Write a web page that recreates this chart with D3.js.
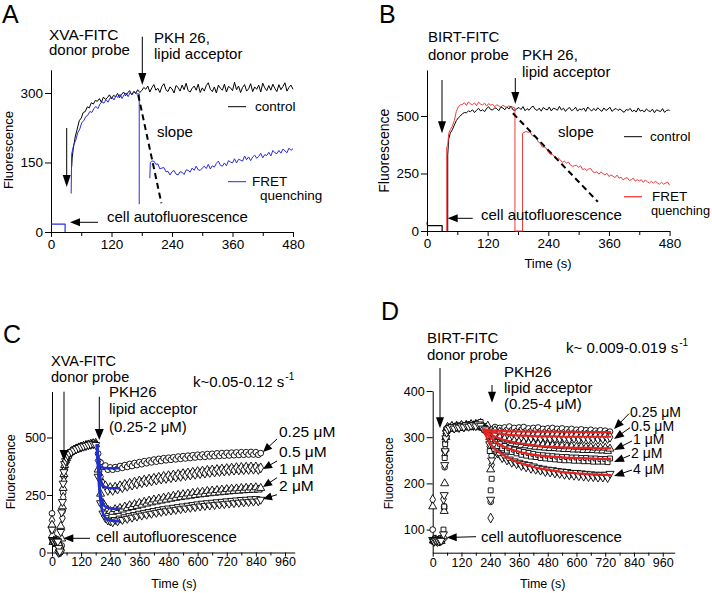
<!DOCTYPE html>
<html><head><meta charset="utf-8">
<script src="https://cdn.jsdelivr.net/npm/d3@7"></script>
<style>body{margin:0;background:#fff}svg{display:block}</style>
</head><body><svg id="c" width="712" height="593"></svg>
<script>
// ---------------- DATA ----------------
// Panel A (XVA-FITC)
const autoTA = [0, 28, 28];
const autoVA = [17, 17, 0];
const tCtrlA = [41,42,44,46,48].concat(d3.range(52,177,4)).concat(d3.range(180,481,4));
const ctrlA = [140,160,178,192,205,
 222,240,246,258,260,270,268,279,276,284,
 282,288,280,291,286,290,296,287,295,292,
 299,290,297,302,294,300,305,296,303,299,
 307,301,
 305,312,308,315,302,311,318,306,310,301,
 314,320,307,303,313,309,300,316,312,304,
 317,307,321,305,302,310,315,306,319,301,
 311,304,316,322,308,303,313,300,317,310,
 306,319,302,314,311,305,323,307,315,301,
 312,318,304,309,320,303,313,308,317,302,
 321,311,305,316,306,319,310,303,318,307,
 314,322,304,312,317,308];
const tFretA1 = [40].concat(d3.range(41,173,4)).concat([175,175]);
const fretA1 = [83,
 168,188,198,214,222,236,240,249,252,260,
 258,266,271,266,276,281,278,286,280,289,
 291,285,294,290,297,288,296,300,292,301,
 296,304,298,
 298,60];
const tFretA2 = [196,197].concat(d3.range(200,481,4));
const fretA2 = [116,150,
 153,153,146,147,136,138,139,130,131,123,
 130,133,125,123,130,129,124,134,133,129,
 138,133,142,134,133,138,142,137,146,136,
 143,140,148,153,144,142,149,143,154,151,
 149,158,149,157,155,153,164,156,162,154,
 162,166,159,163,170,160,167,165,172,164,
 176,171,169,176,170,179,175,171,181,176,
 180];
const slopeTA = [173, 219];
const slopeVA = [296, 62];

// Panel B (BIRT-FITC)
const autoTB = [0, 1, 30, 30];
const autoVB = [38, 23, 23, 0];
const tCtrlB = [41,41,43,46,50,54,58,62,66,70,74].concat(d3.range(78,479,4)).concat([480]);
const ctrlB = [0,330,400,425,440,460,480,492,500,510,515,
 514,522,519,527,515,525,533,522,527,519,
 533,540,528,526,536,532,523,539,535,527,
 540,530,543,527,524,532,537,528,541,523,
 532,525,537,543,529,524,534,521,537,530,
 526,539,522,534,531,525,542,526,534,520,
 531,537,523,528,538,521,531,526,535,520,
 539,529,522,533,523,536,527,520,535,524,
 530,538,520,528,533,524,531,522,516,528,
 525,533,519,526,517,535,521,526,517,531,
 523,519,530,514,527,523,519,532,516,524,
 526,524];
const tFretB = [39,39,41,43,46,50,54,58,62,66].concat(d3.range(70,171,4)).concat([172,174,174,189,189]).concat(d3.range(192,481,4));
const fretB = [0,365,372,425,440,455,480,520,540,548,
 550,558,546,561,553,549,557,545,560,552,
 548,556,543,554,547,551,540,549,544,538,
 547,541,536,545,535,540,
 535,535,0,0,425,
 428,433,429,432,415,411,406,388,381,365,
 365,360,343,333,333,324,312,317,309,298,
 304,294,300,286,281,284,285,277,283,267,
 271,263,270,271,258,253,258,247,257,250,
 244,251,237,244,238,232,243,230,234,222,
 229,232,220,223,230,217,223,217,223,211,
 222,214,209,216,208,216,209,203,212,204,
 208,213,199];
const slopeTB = [170, 338];
const slopeVB = [512, 127];

// Panel C (XVA-FITC, PKH26 0.25-2 uM)
const concC = ["0.25 \u03bcM", "0.5 \u03bcM", "1 \u03bcM", "2 \u03bcM"];
const tC = [0,2,4,8,12,16,20,24,28,32,36,40,43,46,49,52,56,60,65,70,80,90,100,110,120,130,140,150,160,170,180].concat(d3.range(190,861,10));
const c025 = [170,95,48,50,52,47,50,45,3,0, 2,30,180,260,330,370,395,405,415,425, 435,442,448,452,456,460,462,466,468,470, 472,
 430,392,372,378,360,370,360,371,364,376,
 368,380,372,385,376,389,380,393,384,397,
 388,400,392,404,395,407,398,410,401,412,
 403,414,405,417,407,419,409,421,411,423,
 413,425,415,426,416,428,418,429,419,431,
 420,432,421,433,422,434,423,435,424,436,
 425,436,426,437,426,436,425,432];
const c05 = [140,60,52,45,50,55,48,5,0,2, 4,10,150,240,310,360,385,400,418,428, 438,445,450,455,458,462,465,468,470,473, 475,
 400,330,300,290,270,282,270,284,276,290,
 282,296,288,301,293,306,298,311,303,315,
 307,319,311,323,315,327,319,331,322,334,
 325,337,328,340,331,343,334,346,337,349,
 340,352,343,354,345,357,348,359,350,361,
 352,363,354,365,356,367,358,369,359,370,
 360,371,361,372,362,372,361,368];
const c1 = [120,75,45,52,48,50,46,52,40,30, 115,60,200,280,340,380,400,410,420,430, 440,446,452,456,460,463,466,469,472,474, 470,
 360,255,215,198,186,180,176,188,180,193,
 186,199,192,205,197,210,202,215,207,220,
 212,225,217,230,221,234,225,238,229,242,
 233,246,237,250,240,253,243,256,246,259,
 249,262,252,264,254,267,257,269,259,271,
 261,273,263,275,265,277,267,278,268,280,
 270,281,271,282,272,283,273,280];
const c2 = [100,55,50,47,53,49,51,48,20,5, 90,175,220,300,350,385,398,412,422,432, 438,444,450,455,459,462,465,468,471,473, 468,
 330,215,170,150,140,136,132,142,136,148,
 142,154,147,159,152,164,157,169,161,173,
 165,177,169,181,173,185,177,189,180,192,
 183,195,186,198,189,201,192,204,195,207,
 198,210,201,213,203,215,205,217,207,219,
 209,221,211,223,213,225,215,227,217,229,
 219,230,220,232,222,233,223,230];
const fitTC = [185,188,192,196,200,206,212,220,230,245,260,280];
const fitC025 = [470,440,405,385,375,370,368,367,366,366,366,366];
const fitC05  = [470,430,380,345,320,300,290,284,281,279,279,279];
const fitC1   = [470,410,340,290,255,225,210,200,194,191,190,190];
const fitC2   = [470,400,320,260,220,185,165,150,142,138,136,136];

// Panel D (BIRT-FITC, PKH26 0.25-4 uM)
const concD = ["0.25 \u03bcM", "0.5 \u03bcM", "1 \u03bcM", "2 \u03bcM", "4 \u03bcM"];
const tD = [0,3,6,10,15,20,25,30,35,45,48,50,52,55,58,62,70,80,90,100,110,120,130,140,150,160,170,180,190,200,210,220,230,238,242,246].concat(d3.range(250,741,10));
const d025 = [100,78,76,75,74,76,75,77,74,80, 150,235,270,300,312,318,322,320,324,321, 325,322,326,323,327,324,328,325,329,326, 324,
 322,318,290,160,260,
 318,322,315,320,314,321,316,323,315,320,
 313,321,316,322,314,319,313,320,315,321,
 313,318,312,319,314,320,312,318,313,319,
 311,317,312,318,310,316,311,317,309,315,
 310,316,309,314,310,315,308,314,309,312];
const d05 = [165,77,75,78,76,74,77,75,78,166, 145,260,290,308,315,320,318,323,320,324, 321,325,322,326,324,327,325,328,326,330, 322,
 319,324,280,125,240,
 310,314,305,311,303,309,302,308,300,307,
 301,308,299,306,300,307,298,305,300,306,
 297,304,299,305,297,304,298,305,297,303,
 298,304,296,303,298,304,296,302,297,304,
 296,302,297,303,296,302,297,303,297,300];
const d1 = [150,76,78,74,77,75,76,78,75,85, 140,200,275,300,318,322,319,324,318,323, 320,326,321,325,322,328,324,327,323,329, 320,
 316,312,300,230,270,
 302,306,296,300,292,297,289,294,286,292,
 285,290,283,289,282,287,280,286,279,285,
 278,284,277,283,276,282,276,281,275,281,
 274,280,274,280,273,279,273,279,272,278,
 272,278,272,277,271,277,271,277,270,275];
const d2 = [77,75,77,76,75,77,74,76,78,100, 150,255,285,305,316,319,321,318,322,320, 324,321,325,323,327,322,326,324,330,333, 321,
 320,310,270,185,210,
 293,290,281,286,276,281,271,276,268,273,
 265,270,262,268,260,266,258,264,257,262,
 255,261,254,260,253,259,252,258,251,257,
 250,257,250,256,249,256,249,255,248,255,
 248,254,247,254,247,253,247,253,246,254];
const d4 = [78,76,74,77,76,78,75,77,76,90, 175,240,270,298,310,317,320,322,319,323, 321,324,322,326,323,325,327,324,328,325, 319,
 317,305,285,165,250,
 282,270,265,262,255,258,250,252,245,248,
 242,245,238,242,235,240,232,237,230,234,
 228,232,225,230,224,229,222,227,221,226,
 219,225,218,223,217,223,216,222,215,221,
 214,220,214,219,213,219,213,219,212,221];
const fitTD = [211,230,250,275,300,350,400,450,500,550,600,650,700,745];
const fitD025 = [317,316,315,314,313,312.5,312,312,312,311.5,311.5,311,311,311];
const fitD05  = [317,314,311,308,306,304,303,302,302,301,301,301,301,301];
const fitD1   = [317,310,304,298,294,288,284,281,279,278,277,277,276,276];
const fitD2   = [317,305,295,286,279,270,264,260,258,256,255,254,253,253];
const fitD4   = [317,295,280,268,260,247,239,232,228,224,222,220,219,218];

const xTicksAB = [0,120,240,360,480], xMinorAB = [60,180,300,420];
const xTicksCD = [0,120,240,360,480,600,720,840,960], xMinorCD = [60,180,300,420,540,660,780,900];
const yTicksA = [0,150,300], yTicksB = [0,250,500], yTicksC = [0,250,500], yTicksD = [100,200,300,400];

// ---------------- DRAWING ----------------
const FONT = '"Liberation Sans", Arial, Helvetica, sans-serif';
const svg = d3.select('#c');

const xA = d3.scaleLinear([0,480],[51,293]),   yA = d3.scaleLinear([0,350],[232,69.8]);
const xB = d3.scaleLinear([0,480],[427,669.6]), yB = d3.scaleLinear([0,700],[231,70]);
const xC = d3.scaleLinear([0,1000],[52,294.7]), yC = d3.scaleLinear([0,700],[552.5,391.5]);
const xD = d3.scaleLinear([0,1010],[432.7,674.7]), yD = d3.scaleLinear([50,400],[552.7,391]);

function pts(t, v){ const n=Math.min(t.length,v.length); return d3.range(n).map(i=>[t[i],v[i]]); }
function txt(x,y,s,size,o={}){
  const t=svg.append('text').attr('x',x).attr('y',y).attr('font-size',size).attr('font-family',FONT).attr('fill','#000');
  if(o.anchor) t.attr('text-anchor',o.anchor);
  if(o.weight) t.attr('font-weight',o.weight);
  if(o.rot) t.attr('transform',`rotate(-90 ${x} ${y})`);
  t.text(s); return t;
}
function arrow(x1,y1,x2,y2,hl=11,hw=8,lw=1){
  const dx=x2-x1, dy=y2-y1, L=Math.hypot(dx,dy), ux=dx/L, uy=dy/L;
  const bx=x2-ux*hl, by=y2-uy*hl;
  svg.append('line').attr('x1',x1).attr('y1',y1).attr('x2',bx+ux).attr('y2',by+uy).attr('stroke','#000').attr('stroke-width',lw);
  svg.append('path').attr('d',`M${x2},${y2}L${bx-uy*hw/2},${by+ux*hw/2}L${bx+uy*hw/2},${by-ux*hw/2}Z`).attr('fill','#000');
}
function drawLine(x,y,t,v,color,w,dash,curve){
  const line=d3.line().x(d=>x(d[0])).y(d=>y(d[1]));
  if(curve) line.curve(curve);
  svg.append('path').attr('d',line(pts(t,v))).attr('fill','none').attr('stroke',color)
    .attr('stroke-width',w).attr('stroke-dasharray',dash||null).attr('stroke-linejoin','round');
}
const SYM={circle:d3.symbolCircle,diamond:d3.symbolDiamond,up:d3.symbolTriangle,down:d3.symbolTriangle,square:d3.symbolSquare};
function drawMarkers(x,y,t,v,shape){
  const gen=d3.symbol().type(SYM[shape]).size(shape==='square'?24:shape==='circle'?26:28);
  const rot=shape==='down'?180:0;
  svg.append('g').selectAll('path').data(pts(t,v)).join('path')
    .attr('d',gen).attr('transform',d=>`translate(${x(d[0])},${y(d[1])}) rotate(${rot})`)
    .attr('fill','#fff').attr('stroke','#000').attr('stroke-width',0.9);
}
function axes(x,y,xt,xm,yt,fs,o){
  const y0=y.range()[0], x0=x.range()[0];
  const gx=svg.append('g').attr('transform',`translate(0,${y0})`)
    .call(d3.axisBottom(x).tickValues(xt).tickSize(o.xts).tickSizeOuter(0).tickPadding(o.xpad).tickFormat(d3.format('d')));
  const gm=svg.append('g').attr('transform',`translate(0,${y0})`)
    .call(d3.axisBottom(x).tickValues(xm).tickSize(o.xts-1).tickFormat(''));
  gm.select('.domain').remove();
  const gy=svg.append('g').attr('transform',`translate(${x0},0)`)
    .call(d3.axisLeft(y).tickValues(yt).tickSize(o.yts).tickSizeOuter(0).tickPadding(o.ypad).tickFormat(d3.format('d')));
  [gx,gm,gy].forEach(g=>{g.attr('font-family',FONT).attr('font-size',fs);g.selectAll('text').attr('fill','#000');g.selectAll('line,path').attr('stroke','#000');});
}

// ---- Panel A ----
axes(xA,yA,xTicksAB,xMinorAB,yTicksA,13.5,{xts:5,xpad:2,yts:6,ypad:2});
drawLine(xA,yA,tCtrlA,ctrlA,'#000',1);
drawLine(xA,yA,autoTA,autoVA,'#2b2be0',1.2);
drawLine(xA,yA,tFretA1,fretA1,'#2b2be0',1);
drawLine(xA,yA,tFretA2,fretA2,'#2b2be0',1);
drawLine(xA,yA,slopeTA,slopeVA,'#000',2,'6,4');
txt(2,23,'A',25);
txt(49,39.5,'XVA-FITC',15.5); txt(49,55,'donor probe',15);
txt(154,42.5,'PKH 26,',15); txt(154,59.3,'lipid acceptor',15);
txt(157,137,'slope',15);
svg.append('line').attr('x1',228).attr('x2',246).attr('y1',106.7).attr('y2',106.7).attr('stroke','#000');
txt(255,110.5,'control',13.5);
svg.append('line').attr('x1',228).attr('x2',246).attr('y1',181.7).attr('y2',181.7).attr('stroke','#2b2be0');
txt(252,186,'FRET',13.5); txt(260,199.5,'quenching',13.5);
txt(107,221.7,'cell autofluorescence',15);
txt(12.5,150,'Fluorescence',13,{anchor:'middle',rot:true});
arrow(66.7,128,66.7,187,12,8);
arrow(142.3,36.7,142.3,85,12,8);
arrow(98,222.3,70,222.3,10,8);

// ---- Panel B ----
axes(xB,yB,xTicksAB,xMinorAB,yTicksB,13.5,{xts:5,xpad:2,yts:6,ypad:2});
drawLine(xB,yB,tCtrlB,ctrlB,'#000',1);
drawLine(xB,yB,autoTB,autoVB,'#000',1.2);
drawLine(xB,yB,tFretB,fretB,'#f23a3a',1);
drawLine(xB,yB,slopeTB,slopeVB,'#000',2,'6,4');
txt(379,23,'B',25);
txt(428,42.3,'BIRT-FITC',15); txt(428,59.5,'donor probe',15);
txt(522,59.5,'PKH 26,',15); txt(522,77,'lipid acceptor',15);
txt(558,137,'slope',15);
svg.append('line').attr('x1',624).attr('x2',642).attr('y1',136.7).attr('y2',136.7).attr('stroke','#000');
txt(650,140.5,'control',13.5);
svg.append('line').attr('x1',624).attr('x2',642).attr('y1',196.7).attr('y2',196.7).attr('stroke','#f23a3a').attr('stroke-width',1.3);
txt(652,201,'FRET',13.5); txt(651,215,'quenching',12.8);
txt(481,220,'cell autofluorescence',15);
txt(389,150.7,'Fluorescence',14,{anchor:'middle',rot:true});
txt(548,268,'Time (s)',13,{anchor:'middle'});
arrow(442,80,442,133.3,12,8);
arrow(515.3,78,515.3,104,12,8);
arrow(472.7,218.3,447.7,218.3,10,8);

// ---- Panel C ----
axes(xC,yC,xTicksCD,xMinorCD,yTicksC,12.5,{xts:4,xpad:1,yts:5,ypad:1});
drawMarkers(xC,yC,tC,c025,'circle');
drawMarkers(xC,yC,tC,c05,'diamond');
drawMarkers(xC,yC,tC,c1,'up');
drawMarkers(xC,yC,tC,c2,'down');
[fitC025,fitC05,fitC1,fitC2].forEach(f=>drawLine(xC,yC,fitTC,f,'#1f2fd0',2.5,null,d3.curveMonotoneX));
txt(3,343,'C',25);
txt(51,366,'XVA-FITC',14.5); txt(51,381.7,'donor probe',14.5);
const kC=txt(193,387.3,'k~0.05-0.12 s',15); kC.append('tspan').attr('dx',1).attr('dy',-7).attr('font-size',10).text('-1');
txt(109,396.7,'PKH26',15); txt(109,414.3,'lipid acceptor',15); txt(109,431.7,'(0.25-2 \u03bcM)',15);
const labYC=[437,457,473.7,490.7], tipYC=[452,469,487,499];
concC.forEach((s,i)=>{ txt(279,labYC[i],s,15.5); arrow(277,labYC[i]+4-(i===0?2:0),263,tipYC[i],9,8); });
txt(96,541.7,'cell autofluorescence',15);
txt(15,471.7,'Fluorescence',12.5,{anchor:'middle',rot:true});
txt(174,588.3,'Time (s)',12.5,{anchor:'middle'});
arrow(64,391.7,64,461,11,9);
arrow(99.3,396.7,99.3,440,11,9);
arrow(90,538.3,63.3,538.3,10,8);

// ---- Panel D ----
axes(xD,yD,xTicksCD,xMinorCD,yTicksD,12.5,{xts:4,xpad:1,yts:6,ypad:2});
drawMarkers(xD,yD,tD,d025,'circle');
drawMarkers(xD,yD,tD,d05,'diamond');
drawMarkers(xD,yD,tD,d1,'up');
drawMarkers(xD,yD,tD,d2,'square');
drawMarkers(xD,yD,tD,d4,'down');
[fitD025,fitD05,fitD1,fitD2,fitD4].forEach(f=>drawLine(xD,yD,fitTD,f,'#e52222',2.2,null,d3.curveMonotoneX));
txt(381,320,'D',25);
txt(427,343.3,'BIRT-FITC',15); txt(427,360,'donor probe',15);
const kD=txt(566,353.3,'k~ 0.009-0.019 s',15); kD.append('tspan').attr('dx',1).attr('dy',-7).attr('font-size',10).text('-1');
txt(504,377.3,'PKH26',15); txt(504,392.7,'lipid acceptor',15); txt(504,409.3,'(0.25-4 \u03bcM)',15);
const labXD=[630,631,633,631,633], labYD=[416.7,430.7,444,458.3,474], tipYD=[429,439,450,462,476];
concD.forEach((s,i)=>{ txt(labXD[i],labYD[i],s,14); arrow(labXD[i]-1,labYD[i]-(i===4?4:3),614,tipYD[i],10,8); });
txt(481,541.7,'cell autofluorescence',15);
txt(392.7,473.3,'Fluorescence',12,{anchor:'middle',rot:true});
txt(542.7,588.3,'Time (s)',12.5,{anchor:'middle'});
arrow(440,368,440,428.3,11,8);
arrow(492,385,492,402.7,11,8);
arrow(476,536.7,446.7,537.5,10,8);
</script></body></html>
